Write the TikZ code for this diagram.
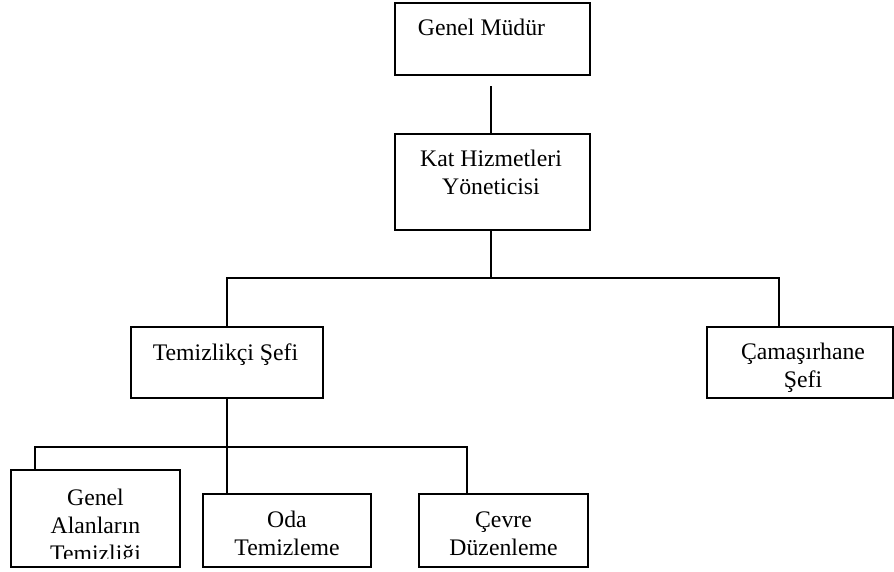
\documentclass[tikz,border=0pt]{standalone}
\usepackage{fontspec}
\setmainfont{Liberation Serif}
\usepackage{tikz}

\tikzset{
  box/.style 2 args={draw, line width=1.5pt, inner sep=0pt, minimum width=#1, minimum height=#2},
  lbl/.style={anchor=base, align=center, inner sep=0pt, font=\fontsize{17.8}{21}\selectfont},
  link/.style={line width=1.5pt}
}

\begin{document}
\begin{tikzpicture}[x=0.75pt, y=-0.75pt]
        \useasboundingbox (0,0) rectangle (894,572);

        % Top boxes
        \node[box={146.25pt}{54pt}] (gm) at (492.5,39) {};
        \node[lbl] (gm-text) at (481.5,35) {Genel Müdür};
        \node[box={146.25pt}{72pt}] (kat) at (492.5,182) {};
        \node[lbl] (kat-text) at (491,194) {Kat Hizmetleri\\Yöneticisi};

        % Chiefs
        \node[box={144pt}{53.25pt}] (ts) at (227,362.5) {};
        \node[lbl] (ts-text) at (225.5,360) {Temizlikçi Şefi};
        \node[box={139.5pt}{53.25pt}] (cs) at (800,362.5) {};
        \node[lbl] (cs-text) at (803,387) {Çamaşırhane\\Şefi};

        % Bottom row
        \node[box={126.75pt}{72.75pt}] (ga) at (95.5,518.5) {};
        \begin{scope}
            \clip (11,470) rectangle (180,558);
            \node[lbl] (ga-text) at (95.5,561) {Genel\\Alanların\\Temizliği};
        \end{scope}
        \node[box={126pt}{54.75pt}] (oda) at (287,530.5) {};
        \node[lbl] (oda-text) at (287,555) {Oda\\Temizleme};
        \node[box={126.75pt}{54.75pt}] (cd) at (503.5,530.5) {};
        \node[lbl] (cd-text) at (503.5,555) {Çevre\\Düzenleme};

        % Line ends
        \coordinate (gm-drop) at (491,86);
        \coordinate (top-bar) at (491,278);
        \coordinate (cs-top) at (779,327);
        \coordinate (low-bar) at (227,447);
        \coordinate (ga-top) at (35,470);
        \coordinate (oda-top) at (227,494);
        \coordinate (cd-top) at (467,494);

        % Lines
        \draw[link] (gm-drop) -- (gm-drop |- kat.north);
        \draw[link] (top-bar |- kat.south) -- (top-bar);
        \draw[link] (ts.north) |- (top-bar) -| (cs-top);
        \draw[link] (ts.south) -- (low-bar);
        \draw[link] (ga-top) |- (low-bar) -| (cd-top);
        \draw[link] (low-bar) -- (oda-top);
    \end{tikzpicture}
\end{document}
